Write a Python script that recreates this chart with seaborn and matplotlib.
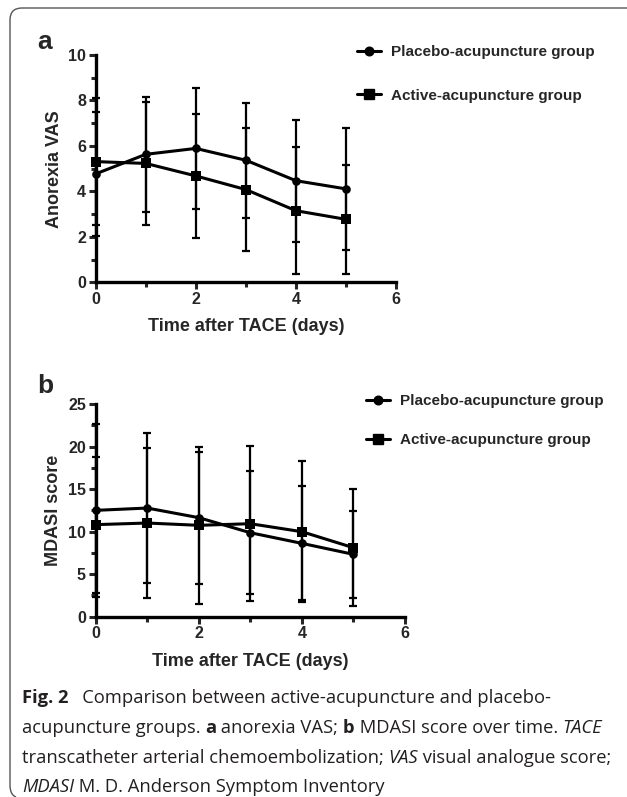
import numpy as np
import pandas as pd
import seaborn as sns
from matplotlib import pyplot as plt
from matplotlib.path import Path
from matplotlib.patches import PathPatch
from matplotlib.ticker import MultipleLocator

# data (mean and SD per day)
days = [0, 1, 2, 3, 4, 5]
vas_placebo = [4.77, 5.63, 5.89, 5.37, 4.47, 4.11]
vas_placebo_sd = [2.73, 2.54, 2.67, 2.53, 2.69, 2.69]
vas_active = [5.31, 5.23, 4.68, 4.08, 3.15, 2.77]
vas_active_sd = [2.78, 2.70, 2.71, 2.69, 2.80, 2.41]
mdasi_placebo = [12.50, 12.77, 11.64, 9.87, 8.62, 7.33]
mdasi_placebo_sd = [10.14, 8.86, 7.76, 7.20, 6.70, 5.10]
mdasi_active = [10.82, 11.01, 10.74, 10.93, 9.99, 8.11]
mdasi_active_sd = [8.00, 8.86, 9.22, 9.10, 8.30, 6.85]
groups = ["Placebo-acupuncture group", "Active-acupuncture group"]

sns.set_style("white")
plt.rcParams['font.family'] = ['Liberation Sans', 'DejaVu Sans']

W, H = 627, 797
fig = plt.figure(figsize=(W / 100, H / 100), dpi=100)


def px_axes(x0, y0, x1, y1):
    # pixel box (top-left origin) -> figure fraction
    return fig.add_axes([x0 / W, 1 - y1 / H, (x1 - x0) / W, (y1 - y0) / H])


def make_panel(ax, placebo, placebo_sd, active, active_sd, ymax, ymajor, yminor,
               ylabel, letter, letter_y, leg_xy, leg_space):
    df = pd.DataFrame({
        "day": days * 2,
        "value": placebo + active,
        "sd": placebo_sd + active_sd,
        "group": [groups[0]] * 6 + [groups[1]] * 6,
    })
    for g, mk, ms in [(groups[0], "o", 6.2), (groups[1], "s", 7.2)]:
        d = df[df["group"] == g]
        ax.errorbar(d["day"], d["value"], yerr=d["sd"], fmt="none", ecolor="black",
                    elinewidth=1.6, capsize=3.2, capthick=1.6, clip_on=False, zorder=3)
        sns.lineplot(data=d, x="day", y="value", color="black", marker=mk,
                     linewidth=2.2, markersize=ms, markeredgewidth=0, ax=ax,
                     clip_on=False, zorder=4)

    ax.set_xlim(0, 6)
    ax.set_ylim(0, ymax)
    ax.xaxis.set_major_locator(MultipleLocator(2))
    ax.xaxis.set_minor_locator(MultipleLocator(1))
    ax.yaxis.set_major_locator(MultipleLocator(ymajor))
    ax.yaxis.set_minor_locator(MultipleLocator(yminor))
    ax.tick_params(which="major", direction="out", length=5, width=2.2,
                   labelsize=11.5, pad=2, bottom=True, left=True)
    ax.tick_params(which="minor", direction="out", length=3.5, width=2.2,
                   bottom=True, left=True)
    for lab in ax.get_xticklabels() + ax.get_yticklabels():
        lab.set_fontweight("bold")
    sns.despine(ax=ax)
    for s in ["left", "bottom"]:
        ax.spines[s].set_linewidth(2.4)
        ax.spines[s].set_color("black")
    ax.set_xlabel("Time after TACE (days)", fontsize=13, fontweight="bold", labelpad=8)
    ax.set_ylabel(ylabel, fontsize=13, fontweight="bold", labelpad=4)

    # legend
    handles = [plt.Line2D([], [], color="black", lw=2.2, marker=m, markersize=ms)
               for m, ms in [("o", 6.2), ("s", 7.2)]]
    fig.legend(handles, groups, loc="upper left",
               bbox_to_anchor=(leg_xy[0] / W, 1 - leg_xy[1] / H), frameon=False,
               handlelength=1.6, handletextpad=0.6, labelspacing=leg_space,
               borderaxespad=0, borderpad=0,
               prop={"weight": "bold", "size": 11, "family": "Liberation Sans"})
    fig.text(37 / W, 1 - letter_y / H, letter,
             fontsize=19, fontweight="bold", va="center", ha="left")


ax_a = px_axes(95.7, 55, 396, 282.3)
make_panel(ax_a, vas_placebo, vas_placebo_sd, vas_active, vas_active_sd,
           10, 2, 1, "Anorexia VAS", "a", 42, (357, 45), 1.95)
ax_b = px_axes(95.7, 404, 405, 616.7)
make_panel(ax_b, mdasi_placebo, mdasi_placebo_sd, mdasi_active, mdasi_active_sd,
           25, 5, 2.5, "MDASI score", "b", 386, (366, 394), 1.65)

# frame around figure (top + left with rounded corners)
r = 12
x0, yt, yb, xr = 10, 8, 797, 627
pts = [(xr, yt), (x0 + r, yt), (x0, yt), (x0, yt + r), (x0, yb - r), (x0, yb - 2), (x0 + 6, yb)]
codes = [Path.MOVETO, Path.LINETO, Path.CURVE3, Path.CURVE3, Path.LINETO, Path.CURVE3, Path.CURVE3]
verts = [(x / W, 1 - y / H) for x, y in pts]
fig.add_artist(PathPatch(Path(verts, codes), transform=fig.transFigure, fill=False,
                         edgecolor="#555555", lw=1.0))

# caption with mixed styles
cap_font = ['Open Sans', 'DejaVu Sans']
lines = [
    [("Fig. 2", "bold", "normal"), ("   Comparison between active-acupuncture and placebo-", "normal", "normal")],
    [("acupuncture groups. ", "normal", "normal"), ("a", "bold", "normal"), (" anorexia VAS; ", "normal", "normal"),
     ("b", "bold", "normal"), (" MDASI score over time. ", "normal", "normal"), ("TACE", "normal", "italic")],
    [("transcatheter arterial chemoembolization; ", "normal", "normal"), ("VAS", "normal", "italic"),
     (" visual analogue score;", "normal", "normal")],
    [("MDASI", "normal", "italic"), (" M. D. Anderson Symptom Inventory", "normal", "normal")],
]
line_y = [697, 727, 757, 786]
rows = []
for segs, y in zip(lines, line_y):
    row = []
    for txt, wt, st in segs:
        row.append(fig.text(22 / W, 1 - (y + 6) / H, txt, fontsize=13.2, fontweight=wt,
                            fontstyle=st, family=cap_font, color="#231f20",
                            va="baseline", ha="left"))
    rows.append((row, y))

fig.canvas.draw()
renderer = fig.canvas.get_renderer()
for row, y in rows:
    xcur = row[0].get_window_extent(renderer).x1
    for t in row[1:]:
        t.set_position((xcur / fig.bbox.width, 1 - (y + 6) / H))
        xcur = t.get_window_extent(renderer).x1

fig.savefig("out.png", dpi=100)
